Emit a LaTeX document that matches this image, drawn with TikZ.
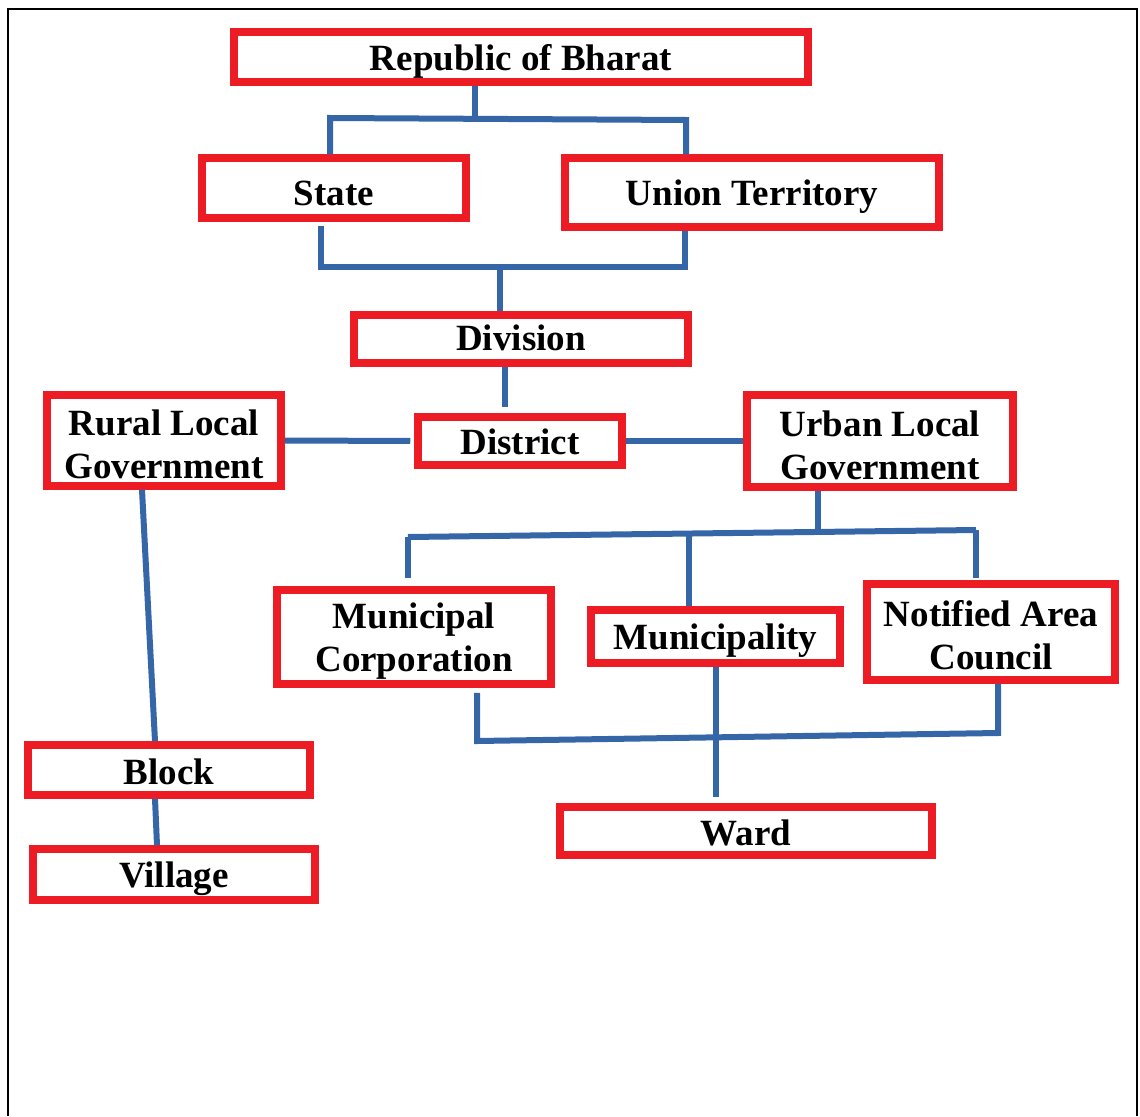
\documentclass[tikz,border=0pt]{standalone}
\usepackage{fontspec}
\setmainfont{Liberation Serif}
\usetikzlibrary{calc}
\definecolor{boxred}{RGB}{237,28,36}
\definecolor{lineblue}{RGB}{53,102,168}
\begin{document}
\begin{tikzpicture}[x=1pt,y=-1pt,
  box/.style={draw=boxred,line width=7.5pt,rectangle,inner sep=0pt},
  lbl/.style={font=\fontsize{37}{43}\selectfont\bfseries,align=center,inner sep=0pt},
  link/.style={draw=lineblue,line width=6pt}]
\useasboundingbox (0,0) rectangle (1140,1116);
\draw[line width=2pt] (8,1116) -- (8,9) -- (1137,9) -- (1137,1116);
% boxes
\node[box,minimum width=574pt,minimum height=50pt] (rep) at (521,57) {};
\node[box,minimum width=264pt,minimum height=60pt] (state) at (334,188) {};
\node[box,minimum width=374pt,minimum height=69pt] (ut) at (752,192.5) {};
\node[box,minimum width=334pt,minimum height=48pt] (div) at (521,339) {};
\node[box,minimum width=204pt,minimum height=48pt] (dist) at (520,441) {};
\node[box,minimum width=234pt,minimum height=91pt] (rural) at (164,440.5) {};
\node[box,minimum width=266pt,minimum height=92pt] (urban) at (880,441) {};
\node[box,minimum width=274pt,minimum height=94pt] (mc) at (414,637) {};
\node[box,minimum width=249pt,minimum height=53pt] (mun) at (715.5,636.5) {};
\node[box,minimum width=248pt,minimum height=96pt] (nac) at (991,632) {};
\node[box,minimum width=282pt,minimum height=50pt] (block) at (169,770) {};
\node[box,minimum width=282pt,minimum height=51pt] (village) at (174,874.5) {};
\node[box,minimum width=372pt,minimum height=48pt] (ward) at (746,831) {};
% labels
\node[lbl,yshift=-4.5pt] (repT) at (rep.center) {Republic of Bharat};
\node[lbl,yshift=-5.5pt] (stateT) at (state.center) {State};
\node[lbl,yshift=-4.5pt] (utT) at (ut.center) {Union Territory};
\node[lbl,yshift=1pt] (divT) at (div.center) {Division};
\node[lbl,yshift=-0.5pt] (distT) at (dist.center) {District};
\node[lbl,yshift=-4pt] (ruralT) at (rural.center) {Rural Local\\Government};
\node[lbl,yshift=-4pt] (urbanT) at (urban.center) {Urban Local\\Government};
\node[lbl,yshift=-4pt] (mcT) at (mc.center) {Municipal\\Corporation};
\node[lbl,yshift=-4pt] (munT) at (mun.center) {Municipality};
\node[lbl,yshift=-3pt] (nacT) at (nac.center) {Notified Area\\Council};
\node[lbl,yshift=-2pt] (blockT) at (block.center) {Block};
\node[lbl,yshift=-4pt] (villageT) at (village.center) {Village};
\node[lbl,yshift=-2pt] (wardT) at (ward.center) {Ward};
% junction coordinates
\coordinate (j1) at (475,118);
\coordinate (sL) at (330,118);
\coordinate (sR) at (686,120);
\coordinate (bL) at (321,267);
\coordinate (bR) at (685,267);
\coordinate (bM) at (500,267);
\coordinate (dv) at (505,407);
\coordinate (uj) at (818,532);
\coordinate (cL) at (408,537);
\coordinate (cM) at (689,535);
\coordinate (cR) at (976,530);
\coordinate (mcb) at (477,741);
\coordinate (nacb) at (998,733);
% connectors
\draw[link] (rep.south -| j1) -- (j1);
\draw[link] (state.north -| sL) -- (sL) -- (sR) -- (ut.north -| sR);
\draw[link,shorten <=4pt] (state.south -| bL) -- (bL) -- (bR) -- (ut.south -| bR);
\draw[link] (bM) -- (div.north -| bM);
\draw[link] (div.south -| dv) -- (dv);
\draw[link,shorten >=4pt] (rural.east) -- (dist.west);
\draw[link] (dist.east) -- (urban.west);
\draw[link] (urban.south -| uj) -- (uj);
\draw[link] (cL) -- (cR);
\draw[link,shorten >=8pt] (cL) -- (mc.north -| cL);
\draw[link] (cM) -- (mun.north -| cM);
\draw[link,shorten >=2pt] (cR) -- (nac.north -| cR);
\draw[link,shorten <=5pt] (mc.south -| mcb) -- (mcb) -- (nacb) -- (nac.south -| nacb);
\draw[link,shorten >=6pt] (mun.south) -- (mun.south |- ward.north);
\draw[link] ($(rural.south)+(-22,0)$) -- ($(block.north)+(-14,0)$);
\draw[link] ($(block.south)+(-14,0)$) -- ($(village.north)+(-17,0)$);
\end{tikzpicture}
\end{document}
